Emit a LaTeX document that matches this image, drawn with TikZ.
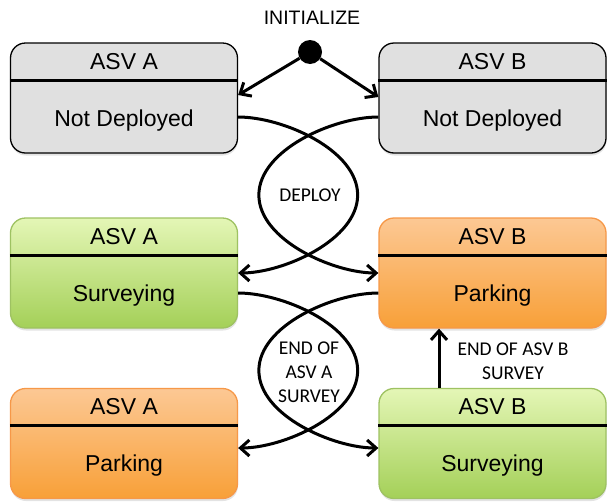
\documentclass[tikz,border=0pt]{standalone}
\usepackage{fontspec}
\setmainfont{Liberation Sans}
\newfontfamily\labelfont{Carlito}
\usetikzlibrary{arrows.meta,calc,shadows}

\definecolor{idlefill}{RGB}{224,224,224}
\definecolor{surveytop}{RGB}{228,246,182}
\definecolor{surveybot}{RGB}{164,208,88}
\definecolor{surveyedge}{RGB}{158,194,98}
\definecolor{parktop}{RGB}{252,200,148}
\definecolor{parkbot}{RGB}{248,160,56}
\definecolor{parkedge}{RGB}{246,152,72}

\begin{document}
\begin{tikzpicture}[x=1pt,y=-1pt,
  state/.style={rectangle, rounded corners=15pt, minimum width=227pt,
    minimum height=110pt, inner sep=0pt, line width=1.3pt,
    drop shadow={opacity=0.22, shadow xshift=0.5pt, shadow yshift=-2.5pt}},
  idle/.style={state, draw=black, fill=idlefill},
  survey/.style={state, draw=surveyedge, top color=surveytop, bottom color=surveybot},
  park/.style={state, draw=parkedge, top color=parktop, bottom color=parkbot},
  divider/.style={line width=3pt},
  boxtext/.style={anchor=base, inner sep=0pt, font=\fontsize{23}{27}\selectfont},
  tag/.style={inner sep=0pt, align=center, font=\labelfont\fontsize{19.5}{24}\selectfont},
  wire/.style={line width=3pt, -{Straight Barb[length=9pt,width=16pt]}},
]
\useasboundingbox (0,0) rectangle (607,501);

% state boxes
\node[idle]   (nda) at (124,98)    {};
\node[idle]   (ndb) at (492.5,98)  {};
\node[survey] (sva) at (124,273)   {};
\node[park]   (pkb) at (492.5,273) {};
\node[park]   (pka) at (124,443.5) {};
\node[survey] (svb) at (492.5,443.5) {};

% header dividers and texts
\foreach \b/\head/\body in {nda/ASV A/Not Deployed, ndb/ASV B/Not Deployed,
    sva/ASV A/Surveying, pkb/ASV B/Parking, pka/ASV A/Parking, svb/ASV B/Surveying}{
  \draw[divider] ($(\b.north west)+(0,38)$) -- ($(\b.north east)+(0,38)$);
  \node[boxtext] at ($(\b.north)+(0,27)$) {\head};
  \node[boxtext] at ($(\b.north)+(0,84)$) {\body};
}

% initial state
\node[circle, fill=black, minimum size=24pt, inner sep=0pt] (init) at (310,52) {};
\node[anchor=base, inner sep=0pt, font=\fontsize{19.5}{23}\selectfont] (initlabel) at (312,24) {INITIALIZE};
\draw[wire] (init) -- ($(nda.east)+(0,-3)$);
\draw[wire] (init) -- ($(ndb.west)+(0,-1)$);

% deployment: two crossing transitions forming a lens
\coordinate (depA) at ($(nda.east)!0.5!(sva.east)+(119.5,9.5)$);
\coordinate (depB) at ($(ndb.west)!0.5!(pkb.west)+(-119.5,9.5)$);
\draw[wire] ($(nda.east)+(0,19)$) .. controls +(45,0) and +(0,-45) .. (depA)
  .. controls +(0,45) and +(45,0) .. (sva.east);
\draw[wire] ($(ndb.west)+(0,19)$) .. controls +(-45,0) and +(0,-45) .. (depB)
  .. controls +(0,45) and +(-45,0) .. (pkb.west);
\node[tag] (deploy) at (310,195) {DEPLOY};

% end of ASV A survey
\coordinate (endAr) at ($(sva.east)!0.5!(pka.east)+(119.5,12.25)$);
\coordinate (endAl) at ($(pkb.west)!0.5!(svb.west)+(-119.5,12.25)$);
\draw[wire] ($(sva.east)+(0,20)$) .. controls +(45,0) and +(0,-45) .. (endAr)
  .. controls +(0,45) and +(45,0) .. ($(pka.east)+(0,4.5)$);
\draw[wire] ($(pkb.west)+(0,20)$) .. controls +(-45,0) and +(0,-45) .. (endAl)
  .. controls +(0,45) and +(-45,0) .. ($(svb.west)+(0,4.5)$);
\node[tag] (endA) at (309,372) {END OF\\ASV A\\SURVEY};

% end of ASV B survey
\draw[wire] ($(svb.north)+(-53.5,0)$) -- ($(pkb.south)+(-53.5,0)$);
\node[tag] (endB) at (513,361) {END OF ASV B\\SURVEY};
\end{tikzpicture}
\end{document}
